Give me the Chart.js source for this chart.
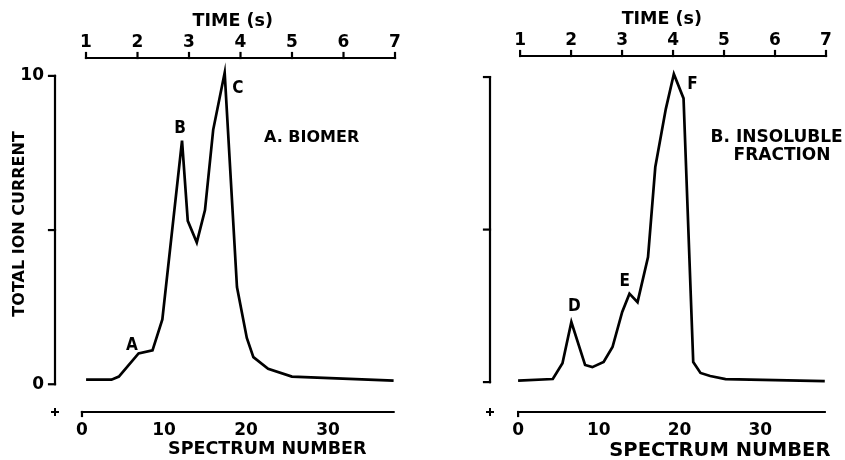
<!DOCTYPE html>
<html>
<head>
<meta charset="utf-8">
<script src="https://cdn.jsdelivr.net/npm/chart.js@4/dist/chart.umd.min.js"></script>
<style>
  html, body { margin: 0; padding: 0; background: #fff; }
  #wrap { position: relative; width: 845px; height: 460px; }
  .box { position: absolute; top: 0; height: 460px; }
</style>
</head>
<body>
<div id="wrap">
  <div class="box" style="left:0;width:420px"><canvas id="chartA"></canvas></div>
  <div class="box" style="left:420px;width:425px"><canvas id="chartB"></canvas></div>
</div>
<script>
// axis ticks
const spectrumTicks = [0, 10, 20, 30];
const timeTicks = [1, 2, 3, 4, 5, 6, 7];
const ionTicks = [0, 5, 10];

// A. biomer
const biomerSpectrum = [0.5, 3.6, 4.5, 6.9, 8.6, 9.8, 12.2, 12.9, 14.0, 15.0, 16.0, 17.4, 18.9, 20.1, 20.9, 22.7, 25.6, 38.0];
const biomerCurrent  = [0.15, 0.15, 0.25, 1.0, 1.1, 2.1, 7.9, 5.3, 4.6, 5.65, 8.25, 10.1, 3.15, 1.5, 0.88, 0.5, 0.25, 0.12];
const biomerPeaks = ['A', 'B', 'C'];
const biomerPeakX = [6.1, 11.95, 19.0];
const biomerPeakY = [1.27, 8.3, 9.58];

// B. insoluble fraction
const insolSpectrum = [0, 4.3, 5.5, 6.6, 8.3, 9.2, 10.6, 11.7, 12.9, 13.8, 14.8, 16.1, 17.0, 18.3, 19.3, 20.5, 21.7, 22.6, 23.8, 25.7, 38.0];
const insolCurrent  = [0.05, 0.1, 0.62, 1.97, 0.56, 0.49, 0.66, 1.15, 2.3, 2.9, 2.62, 4.1, 7.05, 8.95, 10.1, 9.3, 0.66, 0.3, 0.2, 0.1, 0.03];
const insolPeaks = ['D', 'E', 'F'];
const insolPeakX = [6.96, 13.2, 21.6];
const insolPeakY = [2.46, 3.28, 9.74];

const FONT = "'DejaVu Sans', sans-serif";
const PEAK_FONT = "'DejaVu Sans Condensed', 'Liberation Sans Narrow', 'DejaVu Sans', sans-serif";

// draws the detached axis lines, tick marks, axis titles and peak letters
const framePlugin = {
  id: 'frame',
  afterDraw(chart, args, o) {
    const { ctx, chartArea, scales } = chart;
    const x = scales.x, y = scales.y, t = scales.time;
    const line = (x1, y1, x2, y2) => { ctx.beginPath(); ctx.moveTo(x1, y1); ctx.lineTo(x2, y2); ctx.stroke(); };
    ctx.save();
    ctx.strokeStyle = '#000';
    ctx.lineWidth = 2.2;
    ctx.lineCap = 'square';

    // y axis
    const yl = chartArea.left;
    line(yl, y.getPixelForValue(0), yl, y.getPixelForValue(10));
    ionTicks.forEach(v => line(yl - 6, y.getPixelForValue(v), yl, y.getPixelForValue(v)));

    // bottom axis
    const yb = chartArea.bottom;
    const x0 = x.getPixelForValue(0);
    line(x0, yb, x.getPixelForValue(38), yb);
    line(x0, yb, x0, yb + 4);
    // small plus at corner
    ctx.lineWidth = 2;
    line(yl - 3, yb, yl + 3, yb);
    line(yl, yb - 3, yl, yb + 3);
    ctx.lineWidth = 2.2;

    // top time axis
    const yt = chartArea.top;
    line(t.getPixelForValue(1), yt, t.getPixelForValue(7), yt);
    timeTicks.forEach(v => line(t.getPixelForValue(v), yt, t.getPixelForValue(v), yt - 5));

    ctx.fillStyle = '#000';
    ctx.textAlign = 'center';
    ctx.textBaseline = 'middle';

    // axis titles
    ctx.font = 'bold 17.5px ' + FONT;
    ctx.fillText('TIME (s)', t.getPixelForValue(o.timeTitleAt), yt - 37);
    ctx.font = 'bold ' + o.specSize + 'px ' + FONT;
    ctx.fillText('SPECTRUM NUMBER', x.getPixelForValue(o.specTitleAt), yb + o.specDy);
    if (o.yTitle) {
      ctx.save();
      ctx.translate(yl - 35, y.getPixelForValue(5.2));
      ctx.rotate(-Math.PI / 2);
      ctx.font = 'bold 16px ' + FONT;
      ctx.fillText('TOTAL ION CURRENT', 0, 0);
      ctx.restore();
    }

    // peak letters
    ctx.font = 'bold 17px ' + PEAK_FONT;
    o.peaks.forEach((p, i) => ctx.fillText(p, x.getPixelForValue(o.peakX[i]), y.getPixelForValue(o.peakY[i])));

    // sample name
    ctx.textAlign = 'left';
    ctx.font = 'bold ' + o.nameSize + 'px ' + FONT;
    o.name.forEach(n => ctx.fillText(n.text, x.getPixelForValue(n.x), y.getPixelForValue(n.y)));
    ctx.restore();
  }
};

function makeChart(id, spectrum, current, g, frame) {
  const tickFont = { family: FONT, size: 17, weight: 'bold' };
  return new Chart(document.getElementById(id), {
    type: 'scatter',
    data: {
      datasets: [{
        data: spectrum.map((s, i) => ({ x: s, y: current[i] })),
        showLine: true,
        borderColor: '#000',
        borderWidth: 2.7,
        pointRadius: 0,
        tension: 0
      }]
    },
    options: {
      responsive: true,
      maintainAspectRatio: false,
      animation: false,
      layout: { padding: { left: 0, right: g.padR, top: 0, bottom: 0 } },
      plugins: { legend: { display: false }, tooltip: { enabled: false }, frame: frame },
      scales: {
        x: {
          type: 'linear', position: 'bottom', min: g.xMin, max: g.xMax,
          grid: { display: false, drawTicks: false }, border: { display: false },
          afterBuildTicks: s => { s.ticks = spectrumTicks.map(v => ({ value: v })); },
          afterFit: s => { s.height = g.bottomH; },
          ticks: { padding: 8, color: '#000', font: tickFont, autoSkip: false, maxRotation: 0 }
        },
        time: {
          type: 'linear', position: 'top', min: g.tMin, max: g.tMax,
          grid: { display: false, drawTicks: false }, border: { display: false },
          afterBuildTicks: s => { s.ticks = timeTicks.map(v => ({ value: v })); },
          afterFit: s => { s.height = g.topH; },
          ticks: { padding: 5, color: '#000', font: tickFont, autoSkip: false, maxRotation: 0 }
        },
        y: {
          type: 'linear', position: 'left', min: g.yMin, max: g.yMax,
          grid: { display: false, drawTicks: false }, border: { display: false },
          afterBuildTicks: s => { s.ticks = ionTicks.map(v => ({ value: v })); },
          afterFit: s => { s.width = g.leftW; },
          ticks: {
            display: g.yLabels, padding: 11, color: '#000', font: tickFont, autoSkip: false,
            callback: v => (v === 5 ? '' : v)
          }
        }
      }
    },
    plugins: [framePlugin]
  });
}

makeChart('chartA', biomerSpectrum, biomerCurrent,
  { xMin: -3.29, xMax: 38.17, tMin: 0.398, tMax: 7.0, yMin: -0.9, yMax: 10.58,
    leftW: 55, topH: 58, bottomH: 48, padR: 25, yLabels: true },
  { yTitle: true, timeTitleAt: 3.85, specTitleAt: 22.6, specSize: 17.5, specDy: 37,
    peaks: biomerPeaks, peakX: biomerPeakX, peakY: biomerPeakY,
    nameSize: 16, name: [{ text: 'A. BIOMER', x: 22.2, y: 8.0 }] });

makeChart('chartB', insolSpectrum, insolCurrent,
  { xMin: -3.48, xMax: 38.15, tMin: 0.41, tMax: 7.0, yMin: -0.98, yMax: 10.69,
    leftW: 70, topH: 56, bottomH: 48, padR: 19, yLabels: false },
  { yTitle: false, timeTitleAt: 3.78, specTitleAt: 25.0, specSize: 19.5, specDy: 39,
    peaks: insolPeaks, peakX: insolPeakX, peakY: insolPeakY,
    nameSize: 17, name: [{ text: 'B. INSOLUBLE', x: 23.85, y: 8.03 }, { text: 'FRACTION', x: 26.7, y: 7.44 }] });
</script>
</body>
</html>
